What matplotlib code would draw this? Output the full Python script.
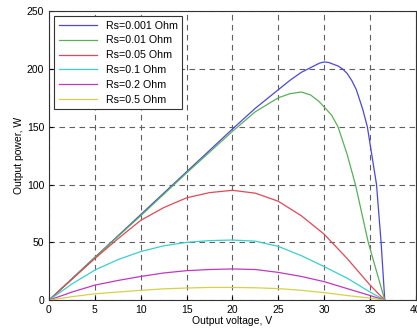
import matplotlib
matplotlib.use("Agg")
import matplotlib.pyplot as plt

plt.rcParams['font.family'] = ['Liberation Sans', 'DejaVu Sans']

# Rs = 0.001 Ohm
v_1 = [0, 5, 10, 15, 20, 22.5, 25, 26.25, 27.5, 28.75, 29.5, 30, 30.5, 31, 31.5,
       32, 32.5, 33, 33.5, 34.2, 34.7, 35.2, 35.7, 36.2, 36.6]
p_1 = [0, 37, 74, 111, 148, 166, 182, 190, 197, 202, 205, 206, 205.5, 204, 202.5,
       200, 196, 190, 182, 165, 150, 125, 100, 50, 0]
# Rs = 0.01 Ohm
v_2 = [0, 5, 10, 15, 20, 22.5, 25, 26.25, 27.5, 28.5, 29.4, 30, 30.8, 31.5, 32.5,
       33.4, 34.1, 34.8, 35.7, 36.6]
p_2 = [0, 37, 73, 110, 146, 163, 175, 178.5, 180, 177.5, 172, 167, 160, 150, 126,
       100, 75, 50, 25, 0]
# Rs = 0.05, 0.1, 0.2, 0.5 Ohm share the same voltage points
v_low = [0, 2.5, 5, 7.5, 10, 12.5, 15, 17.5, 20, 22.5, 25, 27.5, 30, 32.5, 35, 36.6]
p_3 = [0, 18, 36, 53, 69, 80, 88.5, 93, 95, 92.5, 85.5, 73, 57, 36, 13, 0]
p_4 = [0, 14, 26, 35, 42, 47, 50, 51.5, 52, 51, 46.5, 38.5, 29, 19, 7, 0]
p_5 = [0, 7, 13, 17, 20.5, 23.5, 25.5, 26.5, 27, 26.5, 24, 20.5, 16, 10, 4, 0]
p_6 = [0, 3, 5.5, 7, 8.5, 9.8, 10.5, 11, 11, 10.7, 10, 8.5, 6.5, 4, 1.8, 0]

labels = ["Rs=0.001 Ohm", "Rs=0.01 Ohm", "Rs=0.05 Ohm",
          "Rs=0.1 Ohm", "Rs=0.2 Ohm", "Rs=0.5 Ohm"]
colors = ["#4848e0", "#58b058", "#e04858", "#38d0d0", "#c038c0", "#d8d048"]

series = [(v_1, p_1), (v_2, p_2), (v_low, p_3),
          (v_low, p_4), (v_low, p_5), (v_low, p_6)]

fig = plt.figure(figsize=(4.17, 3.35), dpi=100)
ax = fig.add_axes([0.1175, 0.104, 0.88, 0.863])

for (v, p), lab, col in zip(series, labels, colors):
    ax.plot(v, p, color=col, lw=0.9, label=lab)

ax.set_xlim(0, 40)
ax.set_ylim(0, 250)
ax.set_xticks(range(0, 41, 5))
ax.set_yticks(range(0, 251, 50))
ax.grid(True, color="#606060", linestyle=(0, (5, 4)), linewidth=0.8)
ax.tick_params(labelsize=7.5, direction="in", length=3)
for s in ax.spines.values():
    s.set_color("#333333")
ax.set_xlabel("Output voltage, V", fontsize=7.5, labelpad=1)
ax.set_ylabel("Output power, W", fontsize=7.5, labelpad=2)

leg = ax.legend(loc="upper left", fontsize=7.7, fancybox=False, framealpha=1,
                edgecolor="#333333", handlelength=3.6, borderaxespad=0.5,
                labelspacing=0.45)
leg.get_frame().set_linewidth(0.8)

fig.savefig("out.png", dpi=100)
